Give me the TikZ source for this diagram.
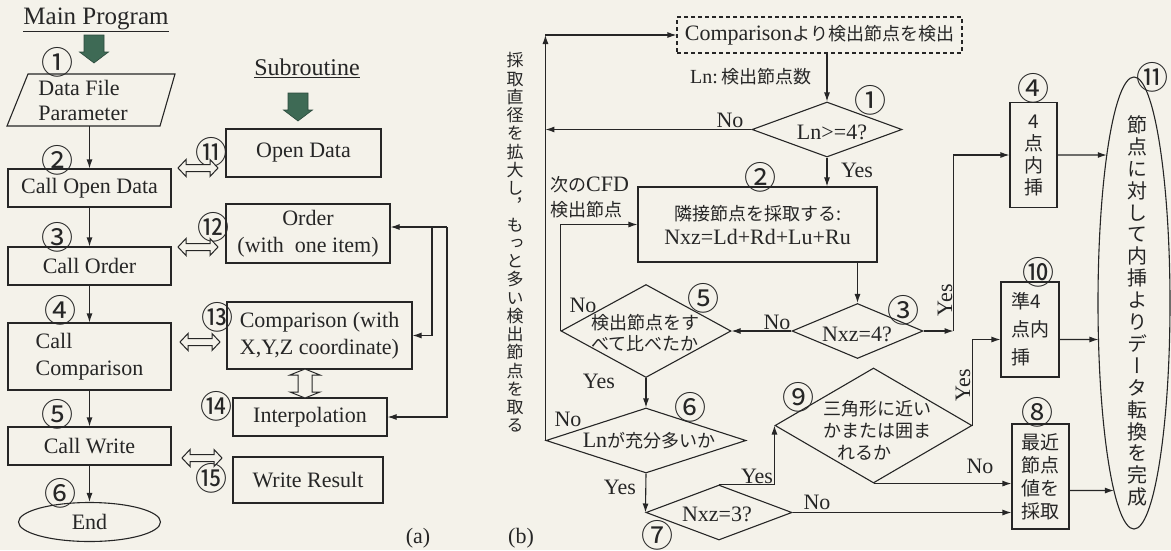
\documentclass[tikz,border=0pt]{standalone}
\usepackage{fontspec}
\setmainfont{Liberation Serif}
\newfontfamily\jp{Noto Sans CJK JP}
\newfontfamily\jpv[RawFeature=+vert]{Noto Sans CJK JP}
\usetikzlibrary{shapes.geometric,arrows.meta,calc,intersections}
\definecolor{ink}{HTML}{262626}
\definecolor{bg}{HTML}{F4F2EA}
\definecolor{grn}{HTML}{3E6A55}
\newcommand\lat{\fontsize{22}{27}\selectfont}
\newcommand\jpf{\jp\fontsize{18}{22}\selectfont}
\newcommand\numf{\jp\fontsize{32}{32}\selectfont}
\begin{document}
\begin{tikzpicture}[x=1pt,y=-1pt,color=ink,
  conn/.style={line width=1.1pt},
  arr/.style={conn,-{Latex[length=9pt,width=6pt]}},
  box/.style={draw,conn,rectangle,inner sep=0,align=center,font=\lat},
  dia/.style={draw,conn,diamond,inner sep=0},
  num/.style={font=\numf,inner sep=0},
  lbl/.style={font=\lat,inner sep=0},
  jtxt/.style={font=\jpf,inner sep=0,align=center},
  gdown/.pic={\filldraw[fill=grn,draw=grn!70!black,line width=0.6pt] (-10,-14) -- (10,-14) -- (10,3) -- (14.5,3) -- (0,14) -- (-14.5,3) -- (-10,3) -- cycle;},
  hdbl/.pic={\filldraw[fill=bg,draw=ink,line width=1pt] (-20,0) -- (-12,-8.5) -- (-12,-3.5) -- (12,-3.5) -- (12,-8.5) -- (20,0) -- (12,8.5) -- (12,3.5) -- (-12,3.5) -- (-12,8.5) -- cycle;},
  vdbl/.pic={\filldraw[fill=bg,draw=ink,line width=1pt] (0,-14.5) -- (15,-8.5) -- (7,-8.5) -- (7,8.5) -- (15,8.5) -- (0,14.5) -- (-15,8.5) -- (-7,8.5) -- (-7,-8.5) -- (-15,-8.5) -- cycle;}]
\useasboundingbox (0,0) rectangle (1171,550);
\fill[bg] (0,0) rectangle (1171,550);

% ---------------- (a) main program
\node[lbl,font=\fontsize{25}{30}\selectfont] (tmain) at (96,20) {\underline{Main Program}};
\pic at (94,49) {gdown};
\draw[conn] (28,74) -- (175,74) -- (160,126) -- (7,126) -- cycle;
\node[lbl,minimum height=52pt,align=left,font=\fontsize{22}{25}\selectfont] (p1) at (83,100) {Data File\\Parameter};
\node[box,minimum width=163pt,minimum height=38pt] (m2) at (89.5,188) {Call Open Data};
\node[box,minimum width=163pt,minimum height=38pt] (m3) at (89.5,266) {Call Order};
\node[box,minimum width=163pt,minimum height=67pt,align=left] (m4) at (89.5,356.5) {Call\\Comparison};
\node[box,minimum width=163pt,minimum height=38pt] (m5) at (89.5,446) {Call Write};
\node[ellipse,draw,conn,minimum width=142pt,minimum height=39pt,inner sep=0,font=\lat] (mend) at (89.5,522) {End};
\draw[arr] (p1.south -| m2.north) -- (m2.north);
\draw[arr] (m2) -- (m3);
\draw[arr] (m3) -- (m4);
\draw[arr] (m4) -- (m5);
\draw[arr] (m5) -- (mend);
\node[num] at (57,62) {①};
\node[num] at (57,160) {②};
\node[num] at (57,237) {③};
\node[num] at (60,310) {④};
\node[num] at (57,414) {⑤};
\node[num] at (60,493) {⑥};

% ---------------- (a) subroutines
\node[lbl,font=\fontsize{24}{28}\selectfont] (tsub) at (307,68) {\underline{Subroutine}};
\pic at (298,107) {gdown};
\node[box,minimum width=155pt,minimum height=48pt] (s1) at (303.5,153) {Open Data};
\node[box,minimum width=164pt,minimum height=59pt] (s2) at (308,233.5) {Order\\(with\ \ one item)};
\node[box,minimum width=185pt,minimum height=67pt] (s3) at (319.5,335.5) {Comparison (with\\X,Y,Z coordinate)};
\node[box,minimum width=154pt,minimum height=38pt] (s4) at (310,417) {Interpolation};
\node[box,minimum width=150pt,minimum height=46pt] (s5) at (308,480) {Write Result};
\node[num] at (211,152) {⑪};
\node[num] at (213,227) {⑫};
\node[num] at (217,317) {⑬};
\node[num] at (216,406) {⑭};
\node[num] at (211,478) {⑮};
\pic at (198,168) {hdbl};
\pic at (198,247) {hdbl};
\pic at (200,342) {hdbl};
\pic at (202,458) {hdbl};
\pic at (305,383.5) {vdbl};
\coordinate (j1) at (447,227);
\coordinate (j2) at (432,227);
\draw[arr] (j1) -- (j1 -| s2.east);
\draw[arr] (j1) |- (s4.east);
\draw[arr] (j2) |- (s3.east);
\node[lbl] (la) at (418,538) {(a)};
\node[lbl] (lb) at (521,538) {(b)};

% ---------------- (b)
\node[draw,conn,dash pattern=on 4pt off 3pt,minimum width=285pt,minimum height=36pt,inner sep=0] (top) at (819.5,35) {{\lat Comparison}{\jpf より検出節点を検出}};
\node[inner sep=0,anchor=west] (lnlab) at (690,77) {{\fontsize{20}{24}\selectfont Ln:\,}{\jpf 検出節点数}};
\node[dia,minimum width=150pt,minimum height=55pt] (d1) at (827,129.5) {};
\node[lbl] at (832,132) {Ln>=4?};
\node[box,minimum width=239pt,minimum height=75pt,font=\fontsize{22}{24}\selectfont] (b2b) at (757.5,224.5) {{\jpf 隣接節点を採取する:}\\Nxz=Ld+Rd+Lu+Ru};
\node[dia,minimum width=131pt,minimum height=55pt] (d3) at (857.5,331) {};
\node[lbl] at (857,334) {Nxz=4?};
\node[dia,minimum width=170pt,minimum height=93pt] (d5) at (646,331) {};
\node[jtxt,font=\jp\fontsize{18}{21}\selectfont] at (645,333) {検出節点をす\\べて比べたか};
\node[dia,minimum width=200pt,minimum height=65pt] (d6) at (646,440.5) {};
\node[inner sep=0] at (649,441) {{\lat Ln}{\jpf が充分多いか}};
\node[dia,minimum width=146pt,minimum height=55pt] (d7) at (719,512.5) {};
\node[lbl] at (717,514) {Nxz=3?};
\node[dia,minimum width=197pt,minimum height=115pt] (d9) at (873.5,425.5) {};
\node[jtxt,align=left] at (877,430) {三角形に近い\\かまたは囲ま\\\hspace*{14pt}れるか};
\node[box,minimum width=47pt,minimum height=105pt,font=\jp\fontsize{19}{22}\selectfont] (b4b) at (1033.5,155) {4\\点\\内\\挿};
\node[box,minimum width=58pt,minimum height=95pt,align=left,font=\jp\fontsize{19}{28}\selectfont] (b10) at (1030,329.5) {準4\\点内\\挿};
\node[box,minimum width=57pt,minimum height=105pt,font=\jp\fontsize{19}{23}\selectfont] (b8) at (1040.5,476.5) {最近\\節点\\値を\\採取};
\node[ellipse,draw,conn,minimum width=72pt,minimum height=452pt,inner sep=0] (ell) at (1134,303) {};
\path[name path=ellp] (ell.center) ellipse [x radius=36pt, y radius=226pt];
\node[font=\jpv\fontsize{20}{21.9}\selectfont,align=center,inner sep=0] (elltxt) at (1137,311) {節\\点\\に\\対\\し\\て\\内\\挿\\よ\\り\\デ\\ー\\タ\\転\\換\\を\\完\\成};
\node[font=\jpv\fontsize{17}{18.25}\selectfont,align=center,inner sep=0] (lvt) at (515,242.5) {採\\取\\直\\径\\を\\拡\\大\\し\\，\\も\\っ\\と\\多\\い\\検\\出\\節\\点\\を\\取\\る};
\node[inner sep=0,anchor=west,align=left,font=\fontsize{18}{25}\selectfont] (cfd) at (550,197) {{\jpf 次の}{\lat CFD}\\{\jpf 検出節点}};

% connectors (b)
\coordinate (cTL) at (d6.west |- top.west);
\draw[arr] (d6.west) -- (cTL);
\draw[arr] (cTL) -- (top.west);
\draw[arr] (d1.west) -- (d1.west -| d6.west);
\draw[arr] (d1.north |- top.south) -- (d1.north);
\draw[arr] (d1.south) -- (d1.south |- b2b.north);
\draw[arr] (d3.north |- b2b.south) -- (d3.north);
\draw[arr] (d3.west) -- (d5.east);
\draw[arr] (d5.west) |- (b2b.west);
\draw[arr] (d5.south) -- (d6.north);
\draw[arr] (d6.south) -- (d7.west);
\draw[arr] (d7.north) -| (d9.west);
\draw[arr] (d7.east) -- (d7.east -| b8.west);
\draw[arr] (d9.south) -- (d9.south -| b8.west);
\coordinate (o10in) at ($(b10.west)+(0,10)$);
\coordinate (o10) at ($(b10.east)+(0,10)$);
\coordinate (o8) at ($(b8.east)+(0,14)$);
\draw[arr] (d9.east) |- (o10in);
\coordinate (c3) at ($(d3.east)+(30,0)$);
\draw[arr] (d3.east) -- (c3);
\draw[arr] (c3) |- (b4b.west);
\path[name path=h4] (b4b.east) -- (b4b.east -| ell.center);
\path[name path=h10] (o10) -- (o10 -| ell.center);
\path[name path=h8] (o8) -- (o8 -| ell.center);
\path[name intersections={of=ellp and h4,by=i4}];
\path[name intersections={of=ellp and h10,by=i10}];
\path[name intersections={of=ellp and h8,by=i8}];
\draw[arr] (b4b.east) -- (i4);
\draw[arr] (o10) -- (i10);
\draw[arr] (o8) -- (i8);

% labels (b)
\node[lbl] at (730,120) {No};
\node[lbl] at (857,170) {Yes};
\node[lbl] at (583,305) {No};
\node[lbl] at (777,322) {No};
\node[lbl,rotate=90] at (945,300) {Yes};
\node[lbl] at (599,381) {Yes};
\node[lbl] at (568,419) {No};
\node[lbl] at (620,487) {Yes};
\node[lbl] at (757,476) {Yes};
\node[lbl] at (817,502) {No};
\node[lbl,rotate=90] at (963,385) {Yes};
\node[lbl] at (980,466) {No};
\node[num] at (870,100) {①};
\node[num] at (760,177) {②};
\node[num] at (903,310) {③};
\node[num] at (703,298) {⑤};
\node[num] at (690,407) {⑥};
\node[num] at (657,535) {⑦};
\node[num] at (798,397) {⑨};
\node[num] at (1033,88) {④};
\node[num] at (1038,272) {⑩};
\node[num] at (1037,412) {⑧};
\node[num] at (1152,77) {⑪};
\end{tikzpicture}
\end{document}
